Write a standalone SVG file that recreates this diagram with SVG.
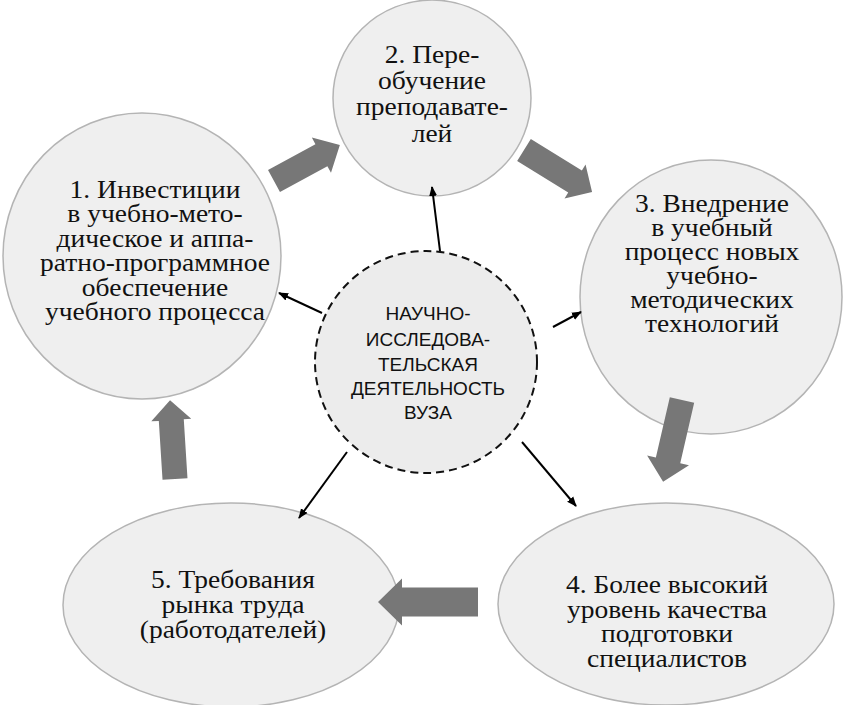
<svg xmlns="http://www.w3.org/2000/svg" width="844" height="705" viewBox="0 0 844 705">
<defs>
<marker id="ah" markerWidth="10" markerHeight="10" refX="9" refY="5" orient="auto" markerUnits="userSpaceOnUse">
<path d="M0,1 L10,5 L0,9 Z" fill="#000"/>
</marker>
</defs>
<rect width="844" height="705" fill="#fff"/>
<g id="node1"><ellipse fill="#efefef" stroke="#b4b4b4" stroke-width="1.5" cx="142" cy="256" rx="139" ry="143"/>
<g font-size="25" fill="#111" text-anchor="middle" transform="translate(155,0) scale(1.1,1)">
<text x="0" y="198" font-family="Liberation Serif" style="font-family:'Liberation Serif',serif !important">1. Инвестиции</text>
<text x="0" y="222" font-family="Liberation Serif" style="font-family:'Liberation Serif',serif !important">в учебно-мето-</text>
<text x="0" y="247" font-family="Liberation Serif" style="font-family:'Liberation Serif',serif !important">дическое и аппа-</text>
<text x="0" y="271" font-family="Liberation Serif" style="font-family:'Liberation Serif',serif !important">ратно-программное</text>
<text x="0" y="296" font-family="Liberation Serif" style="font-family:'Liberation Serif',serif !important">обеспечение</text>
<text x="0" y="320" font-family="Liberation Serif" style="font-family:'Liberation Serif',serif !important">учебного процесса</text>
</g></g>
<g id="node2"><ellipse fill="#efefef" stroke="#b4b4b4" stroke-width="1.5" cx="432" cy="98" rx="99" ry="98"/>
<g font-size="25" fill="#111" text-anchor="middle" transform="translate(432,0) scale(1.1,1)">
<text x="0" y="63" font-family="Liberation Serif" style="font-family:'Liberation Serif',serif !important">2. Пере-</text>
<text x="0" y="89" font-family="Liberation Serif" style="font-family:'Liberation Serif',serif !important">обучение</text>
<text x="0" y="115" font-family="Liberation Serif" style="font-family:'Liberation Serif',serif !important">преподавате-</text>
<text x="0" y="142" font-family="Liberation Serif" style="font-family:'Liberation Serif',serif !important">лей</text>
</g></g>
<g id="node3"><ellipse fill="#efefef" stroke="#b4b4b4" stroke-width="1.5" cx="711" cy="297" rx="131" ry="137"/>
<g font-size="25" fill="#111" text-anchor="middle" transform="translate(712,0) scale(1.1,1)">
<text x="0" y="212" font-family="Liberation Serif" style="font-family:'Liberation Serif',serif !important">3. Внедрение</text>
<text x="0" y="236" font-family="Liberation Serif" style="font-family:'Liberation Serif',serif !important">в учебный</text>
<text x="0" y="260" font-family="Liberation Serif" style="font-family:'Liberation Serif',serif !important">процесс новых</text>
<text x="0" y="284" font-family="Liberation Serif" style="font-family:'Liberation Serif',serif !important">учебно-</text>
<text x="0" y="308" font-family="Liberation Serif" style="font-family:'Liberation Serif',serif !important">методических</text>
<text x="0" y="332" font-family="Liberation Serif" style="font-family:'Liberation Serif',serif !important">технологий</text>
</g></g>
<g id="node4"><ellipse fill="#efefef" stroke="#b4b4b4" stroke-width="1.5" cx="666" cy="604" rx="168" ry="101"/>
<g font-size="25" fill="#111" text-anchor="middle" transform="translate(667,0) scale(1.1,1)">
<text x="0" y="593" font-family="Liberation Serif" style="font-family:'Liberation Serif',serif !important">4. Более высокий</text>
<text x="0" y="618" font-family="Liberation Serif" style="font-family:'Liberation Serif',serif !important">уровень качества</text>
<text x="0" y="642" font-family="Liberation Serif" style="font-family:'Liberation Serif',serif !important">подготовки</text>
<text x="0" y="667" font-family="Liberation Serif" style="font-family:'Liberation Serif',serif !important">специалистов</text>
</g></g>
<g id="node5"><ellipse fill="#efefef" stroke="#b4b4b4" stroke-width="1.5" cx="231" cy="605" rx="168" ry="102"/>
<g font-size="25" fill="#111" text-anchor="middle" transform="translate(233,0) scale(1.1,1)">
<text x="0" y="588" font-family="Liberation Serif" style="font-family:'Liberation Serif',serif !important">5. Требования</text>
<text x="0" y="613" font-family="Liberation Serif" style="font-family:'Liberation Serif',serif !important">рынка труда</text>
<text x="0" y="638" font-family="Liberation Serif" style="font-family:'Liberation Serif',serif !important">(работодателей)</text>
</g></g>
<g id="center"><circle fill="#ececec" stroke="#111" stroke-width="2" stroke-dasharray="8 5" cx="426" cy="362" r="111"/>
<g font-size="19" fill="#111" text-anchor="middle">
<text x="428" y="320" font-family="Liberation Sans" style="font-family:'Liberation Sans',sans-serif !important">НАУЧНО-</text>
<text x="428" y="346" font-family="Liberation Sans" style="font-family:'Liberation Sans',sans-serif !important">ИССЛЕДОВА-</text>
<text x="428" y="371" font-family="Liberation Sans" style="font-family:'Liberation Sans',sans-serif !important">ТЕЛЬСКАЯ</text>
<text x="428" y="395" font-family="Liberation Sans" style="font-family:'Liberation Sans',sans-serif !important">ДЕЯТЕЛЬНОСТЬ</text>
<text x="428" y="419" font-family="Liberation Sans" style="font-family:'Liberation Sans',sans-serif !important">ВУЗА</text>
</g></g>
<g id="connectors" stroke="#000" stroke-width="2" fill="none" marker-end="url(#ah)">
<line x1="440" y1="251" x2="432" y2="187"/>
<line x1="322" y1="313" x2="279" y2="293"/>
<line x1="553" y1="327" x2="581" y2="312"/>
<line x1="347" y1="452" x2="299" y2="518"/>
<line x1="522" y1="442" x2="576" y2="506"/>
</g>
<g id="flow-arrows" fill="#777777">
<polygon transform="translate(274,181) rotate(-28.6)" points="0,-12.5 54,-12.5 54,-20 75,0 54,20 54,12.5 0,12.5"/>
<polygon transform="translate(524,150) rotate(31.7)" points="0,-13 60,-13 60,-20 80,0 60,20 60,13 0,13"/>
<polygon transform="translate(682,400) rotate(103)" points="0,-12.5 62,-12.5 62,-21.5 84,0 62,21.5 62,12.5 0,12.5"/>
<polygon transform="translate(478,602) rotate(180)" points="0,-14.5 76,-14.5 76,-23.5 100,0 76,23.5 76,14.5 0,14.5"/>
<polygon transform="translate(175,479) rotate(-93.6)" points="0,-12.5 59,-12.5 59,-20 79,0 59,20 59,12.5 0,12.5"/>
</g>
</svg>
